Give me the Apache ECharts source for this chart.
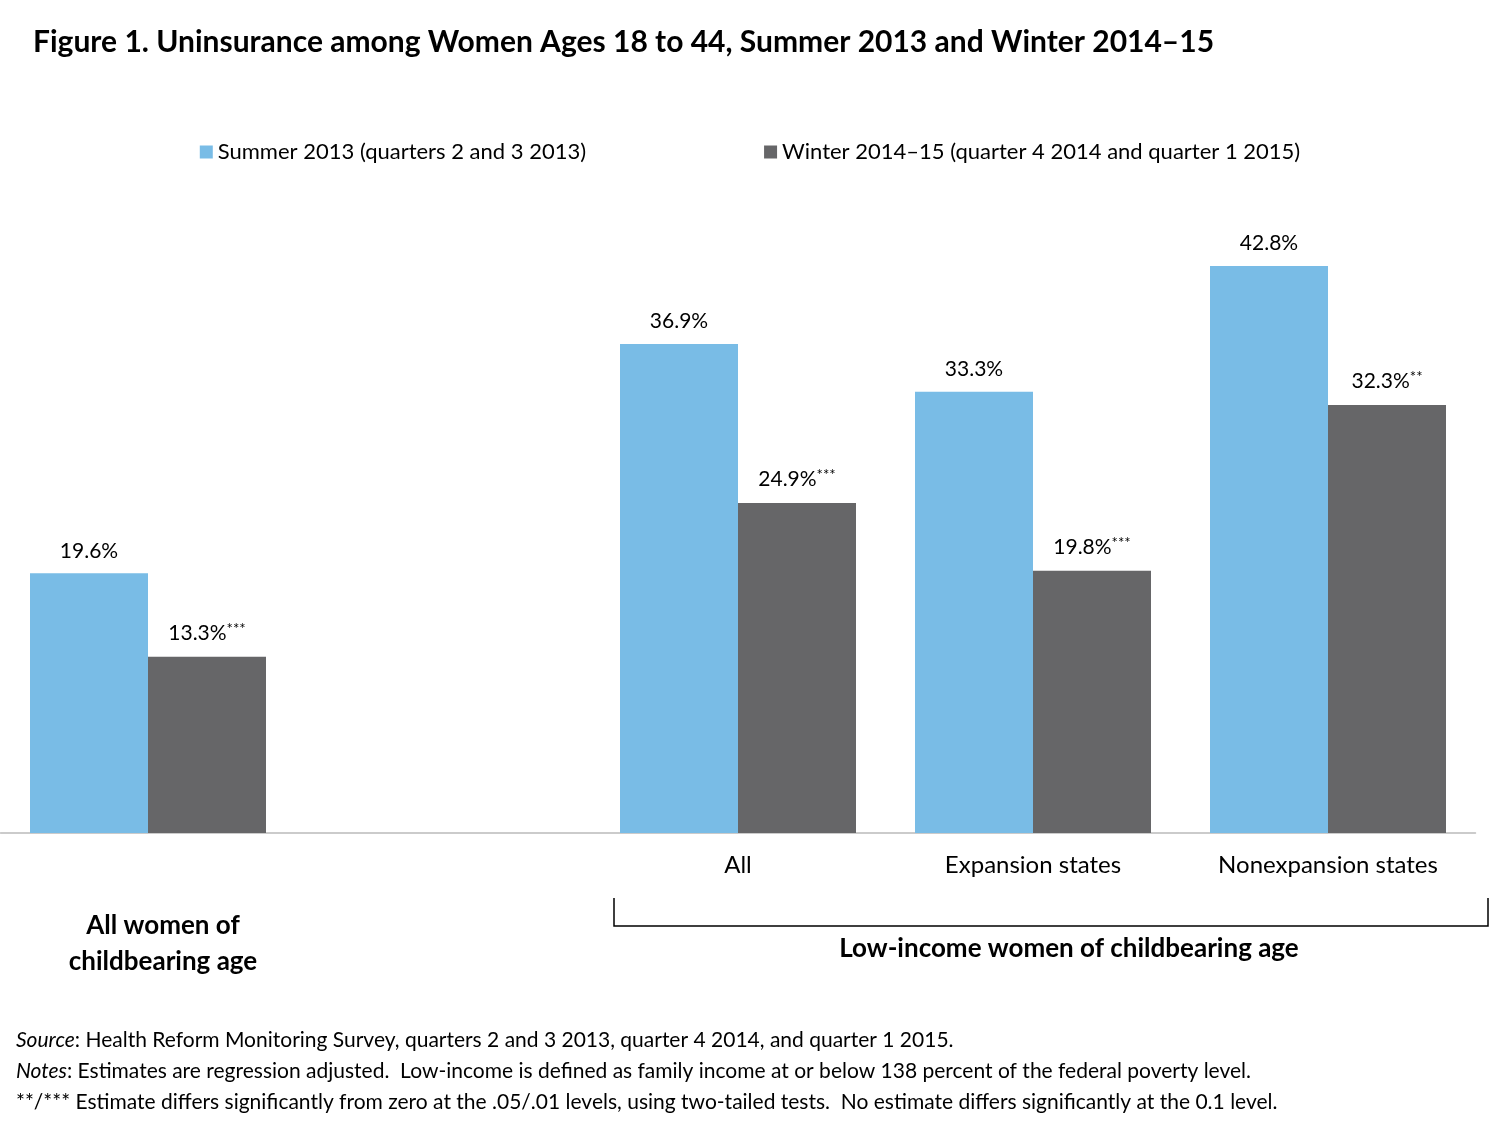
<!DOCTYPE html>
<html><head><meta charset="utf-8">
<script src="https://cdn.jsdelivr.net/npm/echarts@6/dist/echarts.min.js"></script>
<style>html,body{margin:0;padding:0;background:#fff}#c{width:1500px;height:1126px}</style>
</head><body><div id="c"></div>
<script>
const categories = ['', '', 'All', 'Expansion states', 'Nonexpansion states'];
const summer = [19.6, null, 36.9, 33.3, 42.8];
const winter = [13.3, null, 24.9, 19.8, 32.3];
const winterStars = ['***', '', '***', '***', '**'];
const seriesNames = ['Summer 2013 (quarters 2 and 3 2013)', 'Winter 2014\u201315 (quarter 4 2014 and quarter 1 2015)'];
const F = 'Lato, "Open Sans", sans-serif';
const chart = echarts.init(document.getElementById('c'));
chart.setOption({
  animation: false,
  textStyle: {fontFamily: F},
  title: {text: 'Figure 1. Uninsurance among Women Ages 18 to 44, Summer 2013 and Winter 2014\u201315',
    left: 28, top: 22, textStyle: {fontFamily: F, fontSize: 30, fontWeight: 'bold', color: '#000'}},
  legend: {top: 136, left: 'center', itemGap: 178, itemWidth: 13, itemHeight: 13, icon: 'rect',
    textStyle: {fontSize: 22, color: '#000', fontFamily: F}},
  grid: {left: 0.5, right: 24.5, top: 170.5, bottom: 293, containLabel: false},
  xAxis: {type: 'category', data: categories,
    axisLine: {lineStyle: {color: '#bbb', width: 1.5}}, axisTick: {show: false},
    axisLabel: {fontSize: 24, color: '#000', margin: 20, fontFamily: F}},
  yAxis: {type: 'value', min: 0, max: 50, show: false, splitLine: {show: false}},
  series: [
    {name: seriesNames[0], type: 'bar', data: summer, barGap: '0%', barCategoryGap: '20%',
      itemStyle: {color: '#79bce6'},
      label: {show: true, position: 'top', distance: 12, fontSize: 21, color: '#000', fontFamily: F,
        formatter: p => p.value.toFixed(1) + '%'}},
    {name: seriesNames[1], type: 'bar', data: winter,
      itemStyle: {color: '#666668'},
      label: {show: true, position: 'top', distance: 12, fontSize: 21, color: '#000', fontFamily: F,
        formatter: p => p.value.toFixed(1) + '%' + (winterStars[p.dataIndex] ? '{s|' + winterStars[p.dataIndex] + '}' : ''),
        rich: {s: {fontSize: 15, color: '#000', verticalAlign: 'top', padding: [0, 0, 8, 0]}}}}
  ],
  graphic: [
    {type: 'text', left: 'center', style: {}, x: 0},
    {type: 'text', x: 163, y: 908, style: {text: 'All women of\nchildbearing age', fontSize: 26, fontWeight: 'bold',
      fontFamily: F, fill: '#000', align: 'center', lineHeight: 36}},
    {type: 'text', x: 1069, y: 936, style: {text: 'Low-income women of childbearing age', fontSize: 26, fontWeight: 'bold',
      fontFamily: F, fill: '#000', align: 'center'}},
    {type: 'polyline', shape: {points: [[614, 898], [614, 926], [1488, 926], [1488, 898]]},
      style: {stroke: '#000', lineWidth: 1.5, fill: null}},
    {type: 'text', x: 16, y: 1030, style: {rich: {i: {fontStyle: 'italic', fontSize: 21, fontFamily: F}, n: {fontSize: 21, fontFamily: F}},
      text: '{i|Source}{n|: Health Reform Monitoring Survey, quarters 2 and 3 2013, quarter 4 2014, and quarter 1 2015.}', fill: '#000'}},
    {type: 'text', x: 16, y: 1061, style: {rich: {i: {fontStyle: 'italic', fontSize: 21, fontFamily: F}, n: {fontSize: 21, fontFamily: F}},
      text: '{i|Notes}{n|: Estimates are regression adjusted.  Low-income is defined as family income at or below 138 percent of the federal poverty level.}', fill: '#000'}},
    {type: 'text', x: 16, y: 1092, style: {fontSize: 21, fontFamily: F, fill: '#000',
      text: '**/*** Estimate differs significantly from zero at the .05/.01 levels, using two-tailed tests.  No estimate differs significantly at the 0.1 level.'}}
  ]
});
</script></body></html>
